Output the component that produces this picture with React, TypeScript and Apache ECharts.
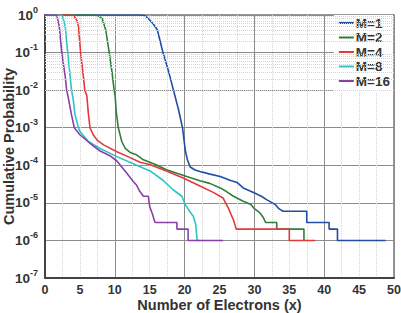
import React, { useEffect, useRef } from "react";
import * as echarts from "echarts";

const seriesNames = ["M=1", "M=2", "M=4", "M=8", "M=16"];
const seriesColors = ["#1f4fa3", "#2f7f3a", "#e5383b", "#2cc4c4", "#8a3fa8"];

const m1X = [0, 12, 13.5, 14.3, 15.0, 15.6, 16.1, 16.5, 16.9, 17.7, 18.4, 19.1, 19.7, 20.1, 20.4, 20.8, 21.5, 22.2, 23.5, 25.1, 26.5, 27.5, 28.4, 29.3, 30.1, 31.0, 31.8, 33.0, 33.5, 34.1, 37.5, 37.5, 40.7, 40.7, 41.9, 41.9, 48.8];
const m1Y = [1, 1, 1, 0.97, 0.74, 0.55, 0.4, 0.2, 0.1, 0.032, 0.01, 3.2e-3, 1e-3, 2.5e-4, 1.4e-4, 9e-5, 7.5e-5, 6.8e-5, 5.9e-5, 5e-5, 4e-5, 3.5e-5, 2.5e-5, 2.1e-5, 1.8e-5, 1.5e-5, 1.2e-5, 9e-6, 7e-6, 6e-6, 6e-6, 3e-6, 3e-6, 2e-6, 2e-6, 1e-6, 1e-6];

const m2X = [0, 6.8, 7.6, 8.2, 8.7, 9.2, 9.6, 9.9, 10.05, 10.2, 10.5, 11.0, 11.5, 12.2, 13.1, 14.1, 16.0, 17.4, 20.3, 22.2, 23.6, 25.1, 26.0, 27.0, 28.4, 29.5, 30.0, 30.8, 31.3, 31.6, 33.2, 33.2, 37.1, 37.1];
const m2Y = [1, 1, 0.96, 0.8, 0.4, 0.1, 0.03, 0.01, 7e-3, 2.7e-3, 1e-3, 4.3e-4, 2.8e-4, 2.2e-4, 1.9e-4, 1.4e-4, 1.02e-4, 7.6e-5, 5e-5, 3.9e-5, 3.3e-5, 2.5e-5, 2e-5, 1.5e-5, 1.1e-5, 9e-6, 7e-6, 5.4e-6, 4e-6, 3e-6, 3e-6, 2e-6, 2e-6, 1e-6];

const m4X = [0, 3.5, 4.1, 4.6, 4.8, 5.1, 5.5, 5.7, 6.0, 6.2, 6.45, 6.9, 7.5, 8.4, 10.3, 12.2, 13.6, 15.0, 17.4, 19.8, 22.2, 24.1, 25.5, 26.3, 27.0, 27.4, 35.0, 35.0, 38.7];
const m4Y = [1, 1, 0.97, 0.7, 0.49, 0.1, 0.023, 0.01, 7e-3, 2.5e-3, 1e-3, 6.5e-4, 4.6e-4, 3.5e-4, 2.3e-4, 1.6e-4, 1.2e-4, 1.05e-4, 7e-5, 4.6e-5, 2.8e-5, 1.9e-5, 1.35e-5, 7e-6, 3.5e-6, 2e-6, 2e-6, 1e-6, 1e-6];

const m8X = [0, 2.0, 2.5, 2.9, 3.25, 3.5, 3.8, 4.05, 4.3, 4.8, 5.0, 6.2, 7.9, 10.3, 12.65, 15.2, 16.9, 18.4, 19.6, 20.1, 20.7, 21.25, 21.6, 21.8, 22.1];
const m8Y = [1, 1, 0.97, 0.49, 0.1, 0.035, 0.01, 5.5e-3, 2.2e-3, 1e-3, 8e-4, 4.3e-4, 2.8e-4, 1.7e-4, 1.1e-4, 6.8e-5, 4e-5, 2.2e-5, 1.5e-5, 9e-6, 6e-6, 4.4e-6, 2.6e-6, 1e-6, 1e-6];

const m16X = [0, 1.2, 1.7, 2.05, 2.4, 2.9, 3.1, 3.3, 3.8, 4.2, 5.0, 6.9, 7.9, 9.3, 10.3, 11.0, 11.7, 12.65, 13.1, 13.6, 14.1, 14.8, 15.0, 15.4, 15.76, 18.9, 18.9, 20.5, 20.5, 25.5];
const m16Y = [1, 1, 0.97, 0.49, 0.1, 0.023, 0.01, 6.8e-3, 2.2e-3, 1e-3, 6.5e-4, 3.3e-4, 2.4e-4, 1.8e-4, 1.3e-4, 9e-5, 6.2e-5, 3.7e-5, 3e-5, 2e-5, 1.5e-5, 1.5e-5, 8e-6, 5e-6, 3e-6, 3e-6, 2e-6, 2e-6, 1e-6, 1e-6];

const allX = [m1X, m2X, m4X, m8X, m16X];
const allY = [m1Y, m2Y, m4Y, m8Y, m16Y];

const yExponents = [-7, -6, -5, -4, -3, -2, -1, 0];
const minorMultipliers = [2, 3, 4, 5, 6, 7, 8, 9];

const FONT = "'Liberation Sans', Arial, sans-serif";

export default function App() {
  const ref = useRef<HTMLDivElement>(null);
  useEffect(() => {
    document.body.style.margin = "0";
    if (!ref.current) return;
    const chart = echarts.init(ref.current, undefined, { renderer: "svg" });

    const minorLines: { yAxis: number }[] = [];
    for (const e of yExponents.slice(0, -1)) {
      for (const k of minorMultipliers) minorLines.push({ yAxis: k * Math.pow(10, e) });
    }

    const lineSeries = seriesNames.map((name, i) => ({
      name,
      type: "line",
      data: allX[i].map((x, j) => [x, allY[i][j]]),
      symbol: "none",
      showSymbol: false,
      z: 3,
      lineStyle: { color: seriesColors[i], width: 1.6 },
      itemStyle: { color: seriesColors[i] },
    }));

    chart.setOption({
      animation: false,
      backgroundColor: "#fff",
      textStyle: { fontFamily: FONT },
      grid: {
        left: 45,
        top: 15,
        right: 7,
        bottom: 35,
        show: true,
        borderColor: "#777",
        borderWidth: 1.5,
        outerBoundsMode: "none",
      },
      legend: {
        data: seriesNames,
        orient: "vertical",
        right: 8,
        top: 15,
        icon: "rect",
        itemWidth: 15,
        itemHeight: 2,
        itemGap: 0.5,
        padding: [1, 3, 4, 5],
        backgroundColor: "#fff",
        textStyle: { fontFamily: FONT, fontWeight: "bold", fontSize: 13.5, color: "#333", padding: [0, 0, 0, -3] },
      },
      xAxis: [
        {
          type: "value",
          min: 0,
          max: 50,
          interval: 2.5,
          name: "Number of Electrons (x)",
          nameLocation: "middle",
          nameGap: 19,
          nameMoveOverlap: false,
          nameTextStyle: { fontFamily: FONT, fontWeight: "bold", fontSize: 14.5, color: "#333" },
          axisLine: { show: true, onZero: false, lineStyle: { color: "#444", width: 2 } },
          axisTick: { show: false },
          axisLabel: {
            fontFamily: FONT,
            fontWeight: "bold",
            fontSize: 12.5,
            color: "#333",
            margin: 5,
            formatter: (v: number) => (v % 5 === 0 ? String(v) : ""),
          },
          splitLine: { show: true, lineStyle: { color: "#d4d4d4", type: "dotted", width: 1 } },
        },
        {
          type: "value",
          min: 0,
          max: 50,
          interval: 10,
          position: "bottom",
          axisLine: { show: false },
          axisTick: { show: false },
          axisLabel: { show: false },
          splitLine: { show: true, lineStyle: { color: "#8c8c8c", width: 1 } },
        },
      ],
      yAxis: {
        type: "log",
        logBase: 10,
        min: 1e-7,
        max: 1,
        interval: 1,
        name: "Cumulative Probability",
        nameLocation: "middle",
        nameGap: 29,
        nameMoveOverlap: false,
        nameTextStyle: { fontFamily: FONT, fontWeight: "bold", fontSize: 14.5, color: "#333" },
        axisLine: { show: true, onZero: false, lineStyle: { color: "#444", width: 2 } },
        axisTick: { show: false },
        axisLabel: {
          margin: 7,
          formatter: (v: number) => `{b|10}{s|${Math.round(Math.log10(v))}}`,
          rich: {
            b: { fontFamily: FONT, fontWeight: "bold", fontSize: 13.5, color: "#333" },
            s: { fontFamily: FONT, fontWeight: "bold", fontSize: 9, color: "#333", padding: [0, 0, 11, 0] },
          },
        },
        splitLine: { show: true, lineStyle: { color: "#8c8c8c", width: 1 } },
      },
      series: [
        {
          name: "minor-grid",
          type: "line",
          data: [],
          silent: true,
          z: 1,
          markLine: {
            silent: true,
            symbol: ["none", "none"],
            label: { show: false },
            lineStyle: { color: "#d4d4d4", type: "dotted", width: 1 },
            data: minorLines,
          },
        },
        ...lineSeries,
      ],
    });
    return () => chart.dispose();
  }, []);
  return <div ref={ref} style={{ width: 401, height: 313 }} />;
}
